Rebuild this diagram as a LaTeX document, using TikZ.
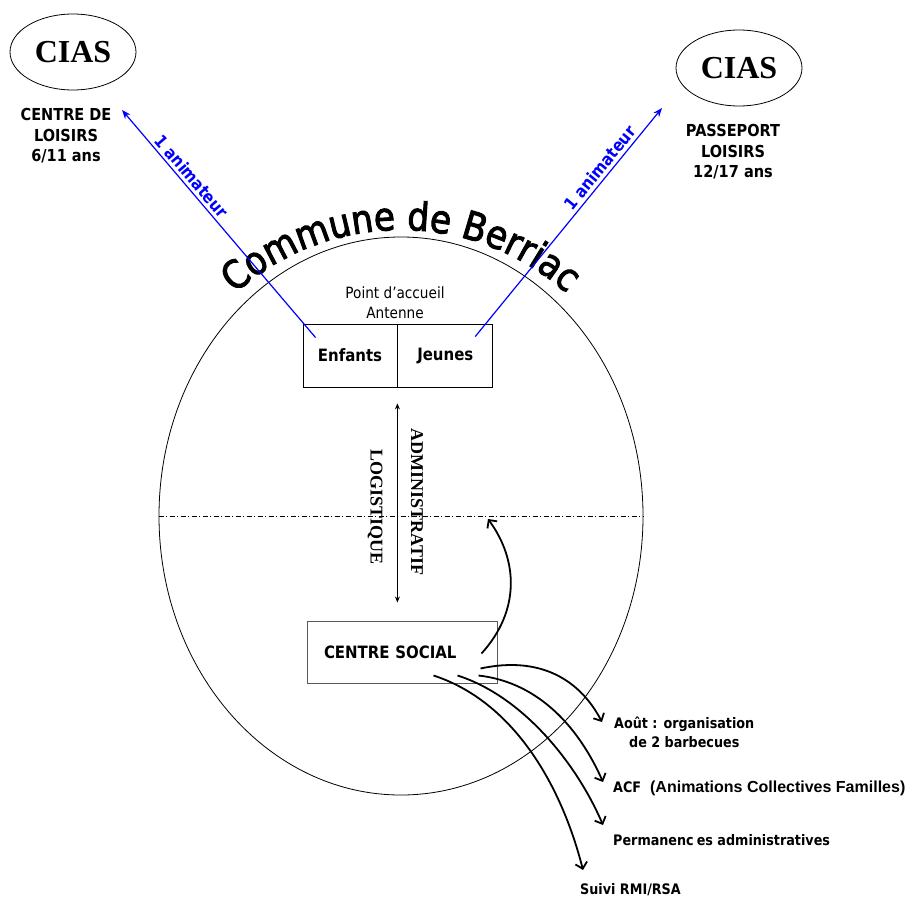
\documentclass[tikz,border=0pt]{standalone}
\usepackage{fontspec}
\newfontfamily\tah{DejaVu Sans}[FakeStretch=0.88]
\newfontfamily\tahheavy{DejaVu Sans}[FakeStretch=0.88,FakeBold=2.5]
\newfontfamily\tms{Liberation Serif}
\newfontfamily\arl{Liberation Sans}
\usetikzlibrary{shapes.geometric,arrows.meta,positioning,calc,decorations.text}
\begin{document}
\begin{tikzpicture}[x=1pt,y=1pt,
	every node/.style={inner sep=0pt},
	cias/.style={draw,ellipse,line width=0.8pt,minimum width=126pt,minimum height=76pt,font=\tms\bfseries\fontsize{32}{32}\selectfont},
	grp/.style={align=center,font=\tah\bfseries\fontsize{16.5}{20.5}\selectfont},
	half/.style={draw,line width=0.8pt,minimum height=63pt,font=\tah\bfseries\fontsize{17}{17}\selectfont},
	anim/.style={blue,line width=1.2pt,-{Stealth[length=9pt,width=7pt]}},
	vert/.style={rotate=-90,font=\tms\bfseries\fontsize{18}{18}\selectfont},
	act/.style={anchor=west,align=center,font=\tah\bfseries\fontsize{14.5}{19}\selectfont},
	flow/.style={line width=1.8pt,-{Straight Barb[length=6pt,width=12pt]}}]
	\useasboundingbox (0,0) rectangle (907,-897);
	\node[draw,ellipse,line width=0.8pt,minimum width=484pt,minimum height=558pt] (commune) at (401,-516) {};
	\node[cias] (ciasA) at (73,-52) {CIAS};
	\node[cias] (ciasB) at (739,-68) {CIAS};
	\node[grp] (loisirs) at (66,-136) {CENTRE DE\\LOISIRS\\6/11 ans};
	\node[grp] (passeport) at (733,-152) {PASSEPORT\\LOISIRS\\12/17 ans};
	\node[half,minimum width=94pt] (enfants) at (350,-355.5) {Enfants};
	\node[half,minimum width=95pt,right=0pt of enfants] (jeunes) {Jeunes};
	\node[align=center,font=\tah\fontsize{15.5}{20}\selectfont] (accueil) at (395,-303) {Point d’accueil\\Antenne};
	\node[draw=black!65,line width=1pt,text width=156pt,inner xsep=17pt,minimum height=62pt,align=left,font=\tah\bfseries\fontsize{17}{17}\selectfont] (social) at (402,-652) {CENTRE SOCIAL};
	\node[vert] (admin) at (417,-502) {ADMINISTRATIF};
	\node[vert] (logist) at (375,-507) {LOGISTIQUE};
	\node[act] (aout) at (614,-732) {Août : organisation\\de 2 barbecues};
	\node[act] (acf) at (613,-788) {ACF\hspace{9pt}{\arl\bfseries\fontsize{16}{16}\selectfont(Animations Collectives Familles)}};
	\node[act] (perm) at (613,-840) {Permanenc\hspace{3pt}es administratives};
	\node[act] (suivi) at (580,-890) {Suivi RMI/RSA};
	\coordinate (tipA) at (122,-110);
	\coordinate (tipB) at (662,-108);
	\path[decorate,decoration={text along path,text align=center,text={|\tahheavy\fontsize{39}{39}\selectfont|Commune de Berriac}}] ([yshift=38pt]commune.center) ++(150:248) arc[start angle=150,end angle=30,radius=248];
	\draw[dash pattern=on 5pt off 2.5pt on 1pt off 2.5pt,line width=0.6pt] (commune.west) -- (commune.east);
	\draw[line width=0.8pt,{Stealth[length=6pt,width=5pt]}-{Stealth[length=6pt,width=5pt]}] ([yshift=-16pt]enfants.south east) -- ($(enfants.south east |- social.north)+(0,18)$);
	\draw[anim] ([shift={(13pt,-14pt)}]enfants.north west) -- node[sloped,above=3pt,pos=0.68,font=\tah\bfseries\fontsize{17}{17}\selectfont] {1 animateur} (tipA);
	\draw[anim] ([shift={(-18pt,-13pt)}]jeunes.north east) -- node[sloped,above=3pt,pos=0.71,font=\tah\bfseries\fontsize{17}{17}\selectfont] {1 animateur} (tipB);
	\draw[flow] ([shift={(-16pt,30pt)}]social.south east) .. controls +(39,43) and +(30,-41) .. ([shift={(87pt,-3pt)}]commune.center);
	\draw[flow] ([shift={(-17pt,15pt)}]social.south east) .. controls +(60,13) and +(-22,42) .. ([shift={(-12pt,10pt)}]aout.west);
	\draw[flow] ([shift={(-19pt,8pt)}]social.south east) .. controls +(62,-7) and +(-23,52) .. ([shift={(-10pt,6pt)}]acf.west);
	\draw[flow] ([shift={(-40pt,8pt)}]social.south east) .. controls +(63,-20) and +(-28,65) .. ([shift={(-10pt,15pt)}]perm.west);
	\draw[flow] ([shift={(-64pt,8pt)}]social.south east) .. controls +(77,-25) and +(-23,90) .. ([shift={(3pt,20pt)}]suivi.west);
\end{tikzpicture}
\end{document}
